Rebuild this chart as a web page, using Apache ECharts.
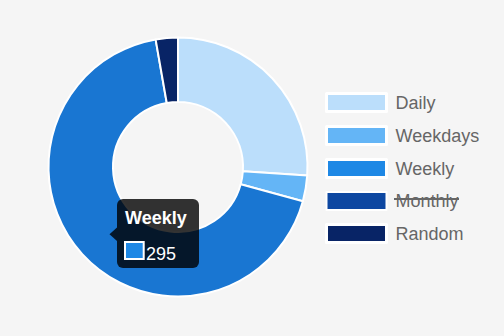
<!DOCTYPE html>
<html>
<head>
<meta charset="utf-8">
<script src="https://cdn.jsdelivr.net/npm/echarts@6/dist/echarts.min.js"></script>
<style>
html,body{margin:0;padding:0;background:#f5f5f5;}
#chart{width:504px;height:336px;}
</style>
</head>
<body>
<div id="chart"></div>
<script>
// ---- data ----
var categories = ['Daily', 'Weekdays', 'Weekly', 'Monthly', 'Random'];
var values = [113, 14, 295, 48, 12];
var colors = ['#BBDEFB', '#64B5F6', '#1E88E5', '#0D47A1', '#082466'];
var hiddenCategories = ['Monthly'];
var hoveredCategory = 'Weekly';
var hoverColor = '#1976D2';

// ---- layout constants ----
var FONT = 'Liberation Sans, Arial, Helvetica, sans-serif';
var legendLeft = 325, legendTop = 92, legendItemW = 60, legendItemH = 18, legendGap = 12;
var legendPitch = 33;

var chart = echarts.init(document.getElementById('chart'), null, {renderer: 'svg'});

var selected = {};
categories.forEach(function (c) { selected[c] = hiddenCategories.indexOf(c) < 0; });

var pieData = categories.map(function (c, i) {
  return {
    name: c,
    value: values[i],
    itemStyle: {color: c === hoveredCategory ? hoverColor : colors[i]}
  };
});

var legendData = categories.map(function (c, i) {
  return {
    name: c,
    itemStyle: {color: colors[i], borderColor: '#fff', borderWidth: 3},
    inactiveColor: colors[i],
    inactiveBorderColor: '#fff'
  };
});

var hi = categories.indexOf(hoveredCategory);
var hiddenIdx = categories.indexOf(hiddenCategories[0]);
var strikeY = legendTop + hiddenIdx * legendPitch + legendItemH / 2 - 1;

// tooltip geometry
var tipX = 117, tipY = 199, tipW = 82, tipH = 69;
var tipBg = 'rgba(0,0,0,0.8)';

chart.setOption({
  backgroundColor: '#f5f5f5',
  animation: false,
  legend: {
    orient: 'vertical',
    left: legendLeft,
    top: legendTop,
    padding: 0,
    icon: 'rect',
    itemWidth: legendItemW,
    itemHeight: legendItemH,
    itemGap: legendGap,
    selectedMode: true,
    selected: selected,
    data: legendData,
    formatter: function (name) { return '{n|' + name + '}'; },
    textStyle: {
      fontFamily: FONT,
      fontSize: 18,
      color: '#666',
      rich: {
        n: {fontFamily: FONT, fontSize: 18, color: '#666', lineHeight: 18, padding: [0, 0, 0, 4]}
      }
    }
  },
  series: [{
    type: 'pie',
    center: [178, 167],
    radius: [65, 129.5],
    startAngle: 90,
    clockwise: true,
    avoidLabelOverlap: false,
    label: {show: false},
    labelLine: {show: false},
    emphasis: {disabled: true},
    itemStyle: {borderColor: '#fff', borderWidth: 2},
    data: pieData
  }],
  graphic: [
    {
      type: 'line',
      shape: {x1: 394, y1: strikeY, x2: 459, y2: strikeY},
      style: {stroke: '#666', lineWidth: 2},
      z: 100
    },
    {
      type: 'rect',
      shape: {x: tipX, y: tipY, width: tipW, height: tipH, r: 6},
      style: {fill: tipBg},
      z: 100
    },
    {
      type: 'polygon',
      shape: {points: [[tipX, 227.5], [109.5, 234.3], [tipX, 241]]},
      style: {fill: tipBg},
      z: 100
    },
    {
      type: 'text',
      x: 125, y: 217.5,
      style: {text: hoveredCategory, font: 'bold 18px ' + FONT, fill: '#fff', verticalAlign: 'middle'},
      z: 101
    },
    {
      type: 'rect',
      shape: {x: 125, y: 242, width: 18.7, height: 17},
      style: {fill: colors[hi], stroke: '#fff', lineWidth: 2},
      z: 101
    },
    {
      type: 'text',
      x: 146, y: 253.5,
      style: {text: String(values[hi]), font: '18px ' + FONT, fill: '#fff', verticalAlign: 'middle'},
      z: 101
    }
  ]
});
</script>
</body>
</html>
